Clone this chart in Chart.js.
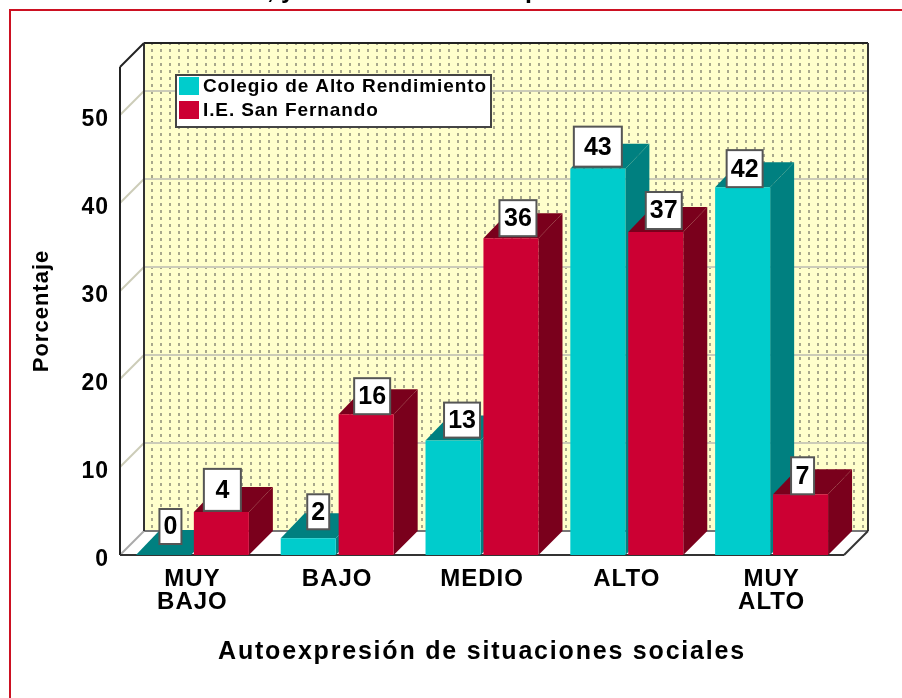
<!DOCTYPE html>
<html>
<head>
<meta charset="utf-8">
<style>html,body{margin:0;padding:0;background:#fff}canvas{display:block}</style>
<script src="https://cdn.jsdelivr.net/npm/chart.js@4/dist/chart.umd.min.js"></script>
</head>
<body>
<div style="width:902px;height:698px"><canvas id="c" width="902" height="698"></canvas></div>
<script>
const categories = [["MUY","BAJO"],"BAJO","MEDIO","ALTO",["MUY","ALTO"]];
const seriesNames = ["Colegio de Alto Rendimiento","I.E. San Fernando"];
const altoRendimiento = [0, 1.9, 13, 43.9, 41.8];
const sanFernando = [4.9, 16, 36, 36.7, 6.9];
const altoLabels = ["0","2","13","43","42"];
const sanLabels = ["4","16","36","37","7"];
const yMax = 55.45;
const xTitle = "Autoexpresión de situaciones sociales";
const yTitle = "Porcentaje";

const FONT = '"Liberation Sans", Arial, sans-serif';
const DEPTH = 24, BAR_RISE = 25;
const teal = "#00cccc", tealDark = "#008080", red = "#cc0033", redDark = "#7a001c";
// label box styling per series: [dx from bar centre, gap above bar top, width, height]
const altoBoxes = [[7,11,22,35],[10,9,22,35],[9,3,36,35],[0,2,48,40],[2,0,36,37]];
const sanBoxes = [[1,1,37,42],[6,0,36,36],[7,2,37,36],[8,3,36,37],[2,0,23,37]];

function polygon(ctx, pts, fill){
  ctx.beginPath();
  pts.forEach((p,i)=> i ? ctx.lineTo(p[0],p[1]) : ctx.moveTo(p[0],p[1]));
  ctx.closePath();
  ctx.fillStyle = fill; ctx.fill();
}
function line(ctx, x1,y1,x2,y2,color,w){
  ctx.beginPath(); ctx.moveTo(x1,y1); ctx.lineTo(x2,y2);
  ctx.strokeStyle=color; ctx.lineWidth=w; ctx.stroke();
}
function makePattern(ctx){
  const p=document.createElement('canvas'); p.width=9; p.height=7;
  const g=p.getContext('2d');
  g.fillStyle='#ffffcc'; g.fillRect(0,0,9,7);
  g.fillStyle='#a8a88c'; g.fillRect(7,0,2,3);
  return ctx.createPattern(p,'repeat');
}

const scene = {
  id:'scene',
  beforeDraw(chart){
    const ctx=chart.ctx;
    ctx.letterSpacing='1px';
    ctx.save();
    ctx.letterSpacing='0px';
    ctx.fillStyle='#fff'; ctx.fillRect(0,0,902,698);
    line(ctx,10,698,10,10,'#cc1122',2);
    line(ctx,9,10,902,10,'#cc1122',2);
    ctx.fillStyle='#000'; ctx.font='bold 25px '+FONT; ctx.textAlign='left'; ctx.textBaseline='alphabetic';
    ctx.fillText(', y',267,-2);
    ctx.fillText('p',525,-2);
    ctx.restore();
  },
  beforeDatasetsDraw(chart){
    const ctx=chart.ctx, a=chart.chartArea, y=chart.scales.y, d=DEPTH;
    ctx.save();
    polygon(ctx,[[a.left,a.top],[a.left+d,a.top-d],[a.left+d,a.bottom-d],[a.left,a.bottom]],'#fff');
    polygon(ctx,[[a.left,a.bottom],[a.left+d,a.bottom-d],[a.right+d,a.bottom-d],[a.right,a.bottom]],'#fff');
    ctx.fillStyle=makePattern(ctx);
    ctx.fillRect(a.left+d,a.top-d,a.right-a.left,a.bottom-a.top);
    y.ticks.forEach(t=>{
      const py=y.getPixelForValue(t.value);
      if(t.value===0) return;
      line(ctx,a.left,py,a.left+d,py-d,'#ccccb8',2);
      line(ctx,a.left+d,py-d,a.right+d,py-d,'#ccccb8',2);
    });
    line(ctx,a.left+d,a.bottom-d,a.right+d,a.bottom-d,'#777',2);
    line(ctx,a.left,a.bottom,a.left+d,a.bottom-d,'#aaa',2);
    line(ctx,a.left+d,a.top-d,a.right+d,a.top-d,'#222',2);
    line(ctx,a.right+d,a.top-d,a.right+d,a.bottom-d,'#333',2);
    line(ctx,a.left+d,a.top-d,a.left+d,a.bottom-d,'#333',2);
    line(ctx,a.left,a.top,a.left,a.bottom,'#222',2);
    line(ctx,a.left,a.top,a.left+d,a.top-d,'#222',2);
    line(ctx,a.left,a.bottom,a.right,a.bottom,'#333',2);
    line(ctx,a.right,a.bottom,a.right+d,a.bottom-d,'#333',2);
    chart.data.datasets.forEach((ds,i)=>{
      const dark = i===0?tealDark:redDark;
      chart.getDatasetMeta(i).data.forEach(b=>{
        const l=b.x-b.width/2, r=b.x+b.width/2, t=b.y, bt=b.base, h=BAR_RISE;
        polygon(ctx,[[l,t],[l+d,t-h],[r+d,t-h],[r,t]],dark);
        polygon(ctx,[[r,t],[r+d,t-h],[r+d,bt-d],[r,bt]],dark);
      });
    });
    ctx.restore();
  },
  afterDatasetsDraw(chart){
    const ctx=chart.ctx;
    ctx.save();
    ctx.letterSpacing='0px';
    [[altoLabels,altoBoxes],[sanLabels,sanBoxes]].forEach((set,i)=>{
      chart.getDatasetMeta(i).data.forEach((b,k)=>{
        const [dx,gap,w,h]=set[1][k];
        const cx=b.x+dx, bottom=b.y-gap;
        ctx.fillStyle='#fff'; ctx.fillRect(cx-w/2,bottom-h,w,h);
        ctx.strokeStyle='#555'; ctx.lineWidth=2; ctx.strokeRect(cx-w/2,bottom-h,w,h);
        ctx.fillStyle='#000'; ctx.font='bold 25px '+FONT;
        ctx.textAlign='center'; ctx.textBaseline='middle';
        ctx.fillText(set[0][k],cx,bottom-h/2+1);
      });
    });
    ctx.fillStyle='#fff'; ctx.fillRect(176,75,315,52);
    ctx.strokeStyle='#444'; ctx.lineWidth=2; ctx.strokeRect(176,75,315,52);
    ctx.letterSpacing='0.9px';
    chart.data.datasets.forEach((ds,i)=>{
      const top=77+i*24;
      ctx.fillStyle=ds.backgroundColor; ctx.fillRect(179,top,20,18);
      ctx.fillStyle='#000'; ctx.font='bold 19px '+FONT;
      ctx.textAlign='left'; ctx.textBaseline='middle';
      ctx.fillText(ds.label,203,top+10);
    });
    ctx.restore();
  }
};

new Chart(document.getElementById('c'),{
  type:'bar',
  data:{labels:categories,datasets:[
    {label:seriesNames[0],data:altoRendimiento,backgroundColor:teal},
    {label:seriesNames[1],data:sanFernando,backgroundColor:red}
  ]},
  options:{
    responsive:false,animation:false,
    categoryPercentage:0.80,barPercentage:0.95,
    layout:{padding:{left:0,right:58,top:67,bottom:0}},
    plugins:{legend:{display:false},title:{display:false},tooltip:{enabled:false}},
    scales:{
      x:{
        grid:{display:false},border:{display:false},
        afterFit(s){
          s.height=143;
          if(!s._wrapped){
            s._wrapped=true;
            const draw=s.drawTitle;
            s.drawTitle=function(){
              const c=this.ctx, old=c.letterSpacing;
              c.letterSpacing='1.8px'; draw.apply(this,arguments); c.letterSpacing=old;
            };
          }
        },
        ticks:{font:{family:FONT,size:24,weight:'bold',lineHeight:0.96},color:'#000',padding:5,maxRotation:0,autoSkip:false},
        title:{display:true,text:xTitle,color:'#000',font:{family:FONT,size:25,weight:'bold'},padding:{top:0,bottom:31}}
      },
      y:{
        min:0,max:yMax,
        grid:{display:false},border:{display:false},
        afterFit(s){s.width=120;},
        ticks:{stepSize:10,includeBounds:false,font:{family:FONT,size:23,weight:'bold'},color:'#000',padding:3,labelOffset:5,callback:v=>v},
        title:{display:true,text:yTitle,color:'#000',font:{family:FONT,size:22,weight:'bold'},padding:{top:29,bottom:0}}
      }
    }
  },
  plugins:[scene]
});
</script>
</body>
</html>
